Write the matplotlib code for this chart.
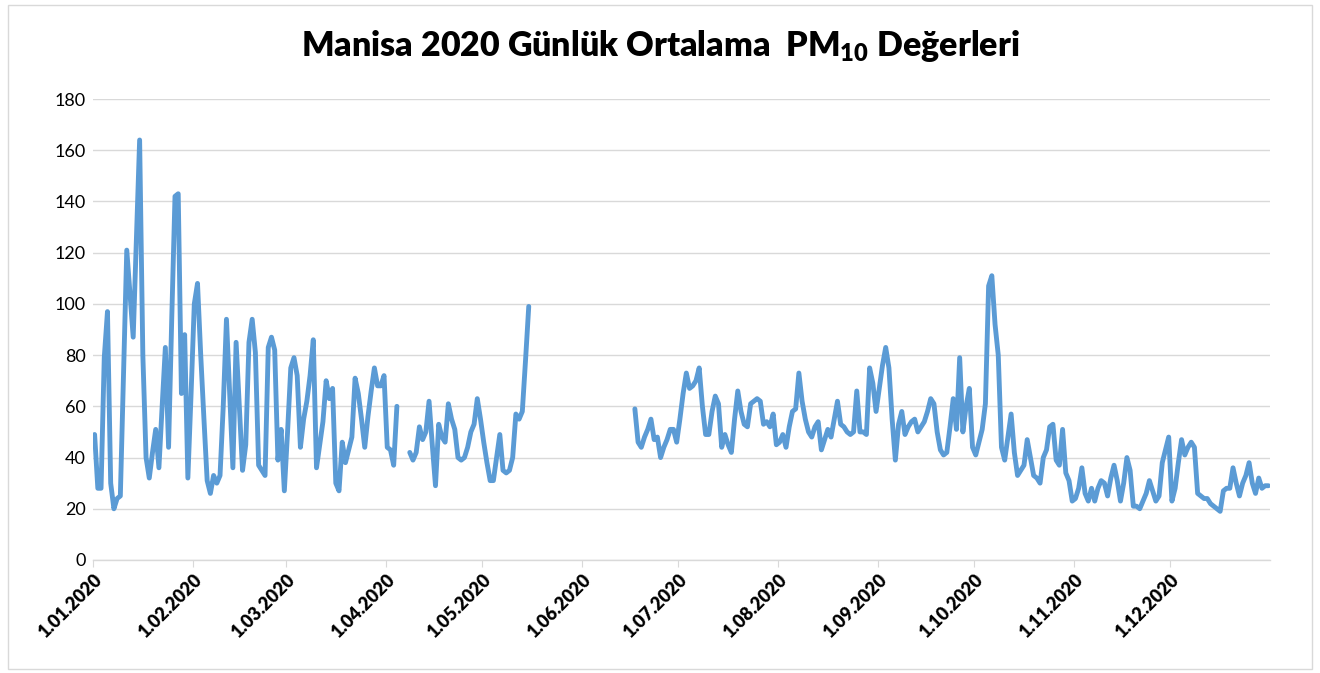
import numpy as np
import matplotlib
matplotlib.use("Agg")
import matplotlib.pyplot as plt
from matplotlib.patches import Rectangle

plt.rcParams['font.family'] = ['Lato', 'DejaVu Sans']
plt.rcParams['mathtext.fontset'] = 'custom'
plt.rcParams['mathtext.rm'] = 'Lato:heavy'
plt.rcParams['mathtext.bf'] = 'Lato:heavy'
plt.rcParams['mathtext.default'] = 'rm'

N = None
jan = [49, 28, 28, 79, 97, 30, 20, 24, 25, 73, 121, 104, 87, 125, 164, 80, 40, 32, 42, 51,
       36, 60, 83, 44, 95, 142, 143, 65, 88, 32, 65]
feb = [100, 108, 80, 55, 31, 26, 33, 30, 33, 60, 94, 65, 36, 85, 60, 35, 45, 85, 94, 81,
       37, 35, 33, 83, 87, 82, 39, 51, 27]
mar = [50, 75, 79, 72, 44, 55, 62, 72, 86, 36, 45, 54, 70, 63, 67, 30, 27, 46, 38, 43,
       48, 71, 65, 55, 44, 56, 66, 75, 68, 68, 72]
apr = [44, 43, 37, 60, N, N, N, 42, 39, 42, 52, 47, 50, 62, 45, 29, 53, 48, 46, 61,
       55, 51, 40, 39, 40, 44, 50, 53, 63, 55]
may = [46, 38, 31, 31, 40, 49, 35, 34, 35, 40, 57, 55, 58, 78, 99] + [N] * 16
jun = [N] * 16 + [59, 46, 44, 48, 51, 55, 47, 48, 40, 44, 47, 51, 51, 46]
jul = [55, 65, 73, 67, 68, 70, 75, 60, 49, 49, 58, 64, 61, 44, 49, 45, 42, 55, 66, 58,
       53, 52, 61, 62, 63, 62, 53, 54, 52, 57, 45]
aug = [46, 49, 44, 52, 58, 59, 73, 62, 55, 50, 48, 52, 54, 43, 47, 51, 48, 55, 62, 53,
       52, 50, 49, 50, 66, 50, 50, 49, 75, 69, 58]
sep = [67, 76, 83, 75, 55, 39, 53, 58, 49, 52, 54, 55, 50, 52, 54, 58, 63, 61, 50, 43,
       41, 42, 52, 63, 51, 79, 50, 60, 67, 44]
oct_ = [41, 46, 51, 61, 107, 111, 92, 80, 44, 39, 48, 57, 42, 33, 35, 37, 47, 40, 33, 32,
        30, 40, 43, 52, 53, 39, 37, 51, 34, 31, 23]
nov = [24, 28, 36, 26, 23, 28, 23, 28, 31, 30, 25, 32, 37, 31, 23, 30, 40, 35, 21, 21,
       20, 23, 26, 31, 27, 23, 25, 38, 43, 48]
dec = [23, 28, 38, 47, 41, 44, 46, 44, 26, 25, 24, 24, 22, 21, 20, 19, 27, 28, 28, 36,
       30, 25, 30, 33, 38, 30, 26, 32, 28, 29, 29]

months = [jan, feb, mar, apr, may, jun, jul, aug, sep, oct_, nov, dec]
tick_labels = ["1.01.2020", "1.02.2020", "1.03.2020", "1.04.2020", "1.05.2020", "1.06.2020",
               "1.07.2020", "1.08.2020", "1.09.2020", "1.10.2020", "1.11.2020", "1.12.2020"]

values = [v for m in months for v in m]
y = np.array([np.nan if v is None else v for v in values], dtype=float)
x = np.arange(len(y))
month_starts = np.cumsum([0] + [len(m) for m in months[:-1]])

fig = plt.figure(figsize=(13.2, 6.73), dpi=100)
ax = fig.add_axes([93 / 1320, 1 - 560 / 673, (1270 - 93) / 1320, (560 - 99) / 673])
ax.plot(x, y, color='#5B9BD5', lw=3.5, solid_joinstyle='round', solid_capstyle='round')
ax.set_xlim(-0.5, 365.5)
ax.set_ylim(0, 180)
ax.set_yticks(range(0, 181, 20))
ax.yaxis.grid(True, color='#D9D9D9', lw=1)
ax.set_axisbelow(True)
for s in ['left', 'right', 'top']:
    ax.spines[s].set_visible(False)
ax.spines['bottom'].set_color('#D9D9D9')
ax.spines['bottom'].set_linewidth(1)
ax.set_xticks(month_starts - 0.5)
ax.set_xticklabels(tick_labels, rotation=45, ha='right', rotation_mode='anchor',
                   fontweight='heavy', fontsize=13)
ax.tick_params(axis='x', length=5, color='#D9D9D9', pad=3)
ax.tick_params(axis='y', length=0, pad=5, labelsize=13)

fig.text(0.5, 1 - 46 / 673, r"Manisa 2020 Günlük Ortalama  PM$_{10}$ Değerleri",
         ha='center', va='center', fontsize=24.5, fontweight='heavy')

fig.patches.append(Rectangle((8 / 1320, 4 / 673), 1304 / 1320, 664 / 673,
                             transform=fig.transFigure, fill=False,
                             edgecolor='#D9D9D9', lw=1))

fig.savefig("out.png", dpi=100)
